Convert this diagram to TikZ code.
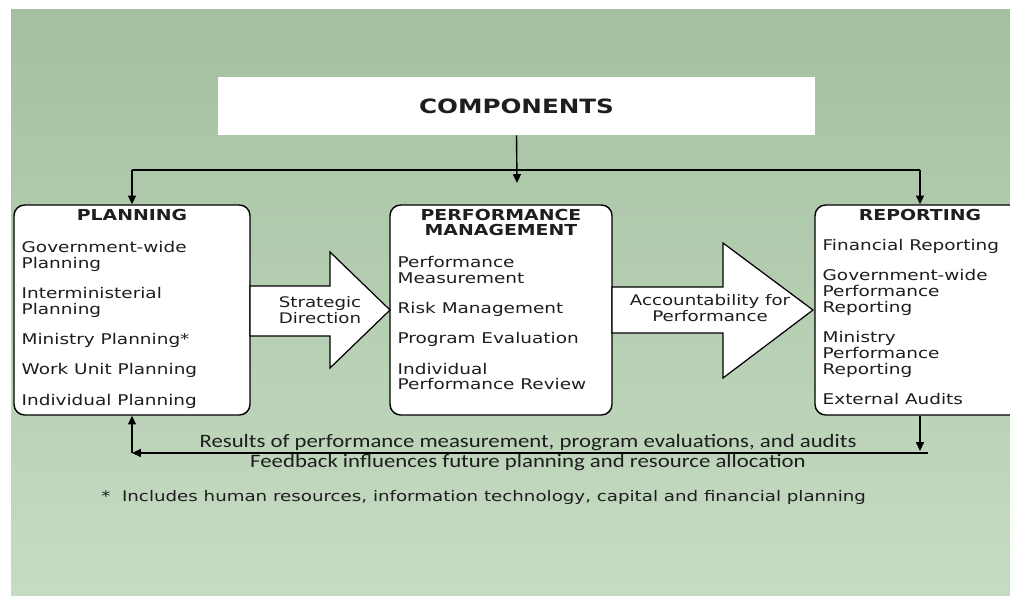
\documentclass[tikz,border=0pt]{standalone}
\usepackage{fontspec}
\setmainfont{DejaVu Sans}[FakeStretch=1.25]
\newfontfamily\notefont{Carlito}[FakeStretch=1.2]
\usepackage{tikz}
\usetikzlibrary{positioning,calc,arrows.meta}
\definecolor{BgTop}{RGB}{164,192,160}
\definecolor{BgBottom}{RGB}{198,219,195}
\definecolor{InkGray}{RGB}{30,30,30}
\tikzset{
    panel/.style={draw=black, fill=white, line width=0.8pt, rounded corners=6pt, minimum height=4.2cm, inner sep=0pt},
    paneltitle/.style={font=\fontsize{8.6}{8.6}\selectfont\bfseries, align=center, inner sep=0pt, text=InkGray},
    itemlist/.style={font=\fontsize{8.4}{9.1}\selectfont, align=left, inner sep=0pt, anchor=north west, text=InkGray},
    link/.style={draw=black, line width=0.8pt},
    linkarrow/.style={link, -{Triangle[length=5pt,width=4.5pt]}}
}

\begin{document}
\begin{tikzpicture}[
    x=0.02cm, y=-0.02cm,
    % big white arrows between the panels
    bigarrow/.style={draw=black, fill=white, line width=0.7pt, line join=miter},
    arrowtext/.style={font=\fontsize{8.3}{8.8}\selectfont, align=center, inner sep=0pt, text=InkGray},
    % feedback lines under the panels
    feedtext/.style={font=\notefont\fontsize{10.8}{10}\selectfont, inner sep=0pt, text=InkGray}
]

% --- BACKGROUND ---
\useasboundingbox (0,0) rectangle (1010,595);
\clip (0,0) rectangle (1010,595);
\fill[white] (0,0) rectangle (1010,595);
\shade[top color=BgTop, bottom color=BgBottom] (11,9) rectangle (1010,595);

% --- HEADER ---
\node[fill=white, minimum width=11.94cm, minimum height=1.16cm, inner sep=0pt,
      font=\fontsize{11.2}{12}\selectfont\bfseries, text=InkGray] (comp) at (516.5,106) {COMPONENTS};

% --- PANELS ---
\node[panel, minimum width=4.72cm] (plan) at (132,310) {};
\node[panel, minimum width=4.44cm] (pm) at (501,310) {};
\node[panel, minimum width=4.2cm] (rep) at (920,310) {};

% Planning
\node[paneltitle, below=0.09cm of plan.north] (plan-t) {PLANNING};
\node[itemlist] (plan-l) at ([shift={(8,37)}]plan.north west) {Government-wide\\Planning\\[8pt]
    Interministerial\\Planning\\[8pt]
    Ministry Planning*\\[8pt]
    Work Unit Planning\\[8pt]
    Individual Planning};

% Performance management
\node[paneltitle, below=0.09cm of pm.north] (pm-t) {PERFORMANCE\\MANAGEMENT};
\node[itemlist] (pm-l) at ([shift={(8,52)}]pm.north west) {Performance\\Measurement\\[8pt]
    Risk Management\\[8pt]
    Program Evaluation\\[8pt]
    Individual\\Performance Review};

% Reporting
\node[paneltitle, below=0.09cm of rep.north] (rep-t) {REPORTING};
\node[itemlist] (rep-l) at ([shift={(8,35)}]rep.north west) {Financial Reporting\\[8pt]
    Government-wide\\Performance\\Reporting\\[8pt]
    Ministry\\Performance\\Reporting\\[8pt]
    External Audits};

% --- BIG ARROWS ---
\draw[bigarrow] (250,286) -- (330,286) -- (330,252) -- (390,310) -- (330,368) -- (330,336) -- (250,336) -- cycle;
\node[arrowtext] (dir) at (320,310) {Strategic\\Direction};

\draw[bigarrow] (612,287) -- (723,287) -- (723,243) -- (813,310) -- (723,378) -- (723,333) -- (612,333) -- cycle;
\node[arrowtext] (acc) at (710,308) {Accountability for\\Performance};

% --- CONNECTORS ---
\coordinate (bus-l) at (132,170);
\coordinate (bus-r) at (920,170);
\coordinate (drop) at (517,183);
\draw[linkarrow] (comp.south) -- (drop);
\draw[link] (bus-l) -- (bus-r);
\draw[linkarrow] (bus-l) -- (plan.north);
\draw[linkarrow] (bus-r) -- (rep.north);

\coordinate (fb-l) at (132,453);
\coordinate (fb-r) at (928,453);
\coordinate (fb-drop) at (920,451);
\draw[linkarrow] (rep.south) -- (fb-drop);
\draw[linkarrow] (fb-r) -- (fb-l);
\draw[linkarrow] (fb-l) -- (plan.south);

% --- FEEDBACK TEXT AND NOTE ---
\node[feedtext] (fb-top) at (528,443) {Results of performance measurement, program evaluations, and audits};
\node[feedtext] (fb-bot) at (528,463) {Feedback influences future planning and resource allocation};
\node[font=\fontsize{8.3}{9}\selectfont, anchor=west, inner sep=0pt, text=InkGray] (note) at (101,497)
    {*\ \ Includes human resources, information technology, capital and financial planning};

\end{tikzpicture}
\end{document}
